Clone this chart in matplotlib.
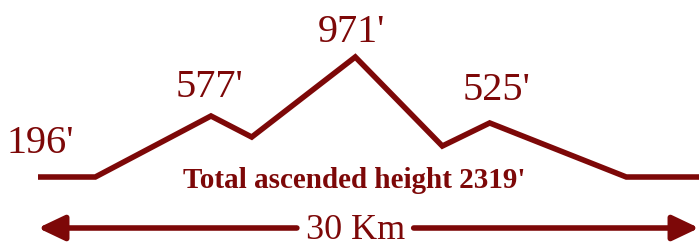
import matplotlib.pyplot as plt
import matplotlib.transforms as mtransforms

# Elevation profile (distance in km, elevation in feet)
distance_km = [0.0, 2.6, 7.85, 9.7, 14.4, 18.35, 20.5, 26.7, 30.0]
elevation_ft = [196, 196, 590, 454, 971, 396, 545, 196, 196]

# Labelled summits: (index into profile, label, text offset in px)
peak_idx = [0, 2, 4, 6]
peak_labels = ["196'", "577'", "971'", "525'"]
peak_offsets = [(2, 24), (-2, 19), (-4, 15), (7, 23)]

total_label = "Total ascended height 2319'"
distance_label = "30 Km"

RED = '#7d0808'
SERIF = ['Liberation Serif', 'DejaVu Serif']

fig = plt.figure(figsize=(6.99, 2.47), dpi=100)
ax = fig.add_axes([0, 0, 1, 1])
ax.set_xlim(-1.725, 30.0)
ax.set_ylim(-256, 1339)
ax.axis('off')

ax.plot(distance_km, elevation_ft, color=RED, lw=4.0,
        solid_joinstyle='miter', solid_capstyle='butt')

for i, lab, (dx, dy) in zip(peak_idx, peak_labels, peak_offsets):
    ax.annotate(lab, (distance_km[i], elevation_ft[i]),
                xytext=(dx * 0.72, dy * 0.72), textcoords='offset points',
                ha='center', va='baseline', fontsize=29, color=RED,
                family=SERIF)

# total ascent caption
ax.text(14.35, 0.24, total_label, transform=ax.get_xaxis_transform(),
        ha='center', va='baseline', fontsize=21, fontweight='bold',
        color=RED, family=SERIF)

# distance arrow
trans = mtransforms.blended_transform_factory(ax.transData, ax.transAxes)
arrow_y = 1 - 228 / 247
mid = 14.4
gap = 2.65
arrow_kw = dict(arrowstyle='-|>,head_length=0.8,head_width=0.38',
                color=RED, lw=4.0, mutation_scale=20, shrinkA=0, shrinkB=0)
ax.annotate('', xy=(0.0, arrow_y), xytext=(mid - gap, arrow_y),
            xycoords=trans, textcoords=trans, arrowprops=arrow_kw)
ax.annotate('', xy=(30.0, arrow_y), xytext=(mid + gap, arrow_y),
            xycoords=trans, textcoords=trans, arrowprops=arrow_kw)
ax.text(mid, 1 - 238.5 / 247, distance_label, transform=trans,
        ha='center', va='baseline', fontsize=26, color=RED, family=SERIF)

fig.savefig('out.png', dpi=100)
